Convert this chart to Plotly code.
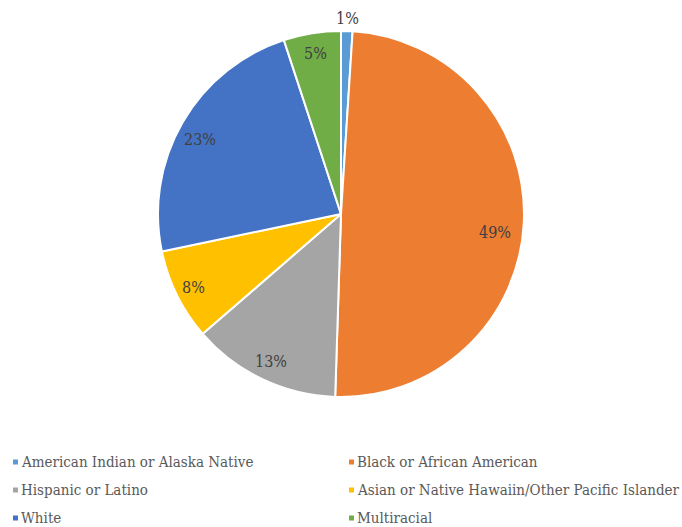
import math
import plotly.graph_objects as go

# Share of students by race / ethnicity (percent)
categories = [
    "American Indian or Alaska Native",
    "Black or African American",
    "Hispanic or Latino",
    "Asian or Native Hawaiin/Other Pacific Islander",
    "White",
    "Multiracial",
]
values = [1, 49, 13, 8, 23, 5]
colors = ["#5B9BD5", "#ED7D31", "#A5A5A5", "#FFC000", "#4472C4", "#70AD47"]

W, H = 682, 527
CX, CY, R = 341, 214, 183  # pie centre and radius in pixels
FONT = "DejaVu Serif Condensed, DejaVu Serif, serif"

# label placement: radius fraction and angular nudge (degrees) per slice
label_radius = [1.07, 0.85, 0.89, 0.90, 0.87, 0.89]
label_nudge = [0, 4, 0, 0, -2, 0]


def px(x):
    return x / W


def py(y):
    return 1 - y / H


fig = go.Figure()
fig.add_trace(
    go.Pie(
        labels=categories,
        values=values,
        sort=False,
        direction="clockwise",
        rotation=0,
        marker=dict(colors=colors, line=dict(color="white", width=2)),
        textinfo="none",
        hoverinfo="label+value",
        showlegend=False,
        domain=dict(x=[0, 1], y=[py(CY + R), py(CY - R)]),
    )
)

annotations = []
shapes = []

# value labels near the middle angle of each slice
total = sum(values)
cum = 0
for v, rf, nd in zip(values, label_radius, label_nudge):
    mid = (cum + v / 2) / total * 2 * math.pi + math.radians(nd)
    cum += v
    x = CX + rf * R * math.sin(mid)
    y = CY - rf * R * math.cos(mid)
    annotations.append(
        dict(
            x=px(x), y=py(y), xref="paper", yref="paper",
            text=f"{v}%", showarrow=False,
            xanchor="center", yanchor="middle",
            font=dict(family=FONT, size=16, color="#404040"),
        )
    )

# two-column legend below the pie
col_x = [13, 349]
row_y = [462, 490, 518]
for i, (name, c) in enumerate(zip(categories, colors)):
    mx = col_x[i % 2]
    my = row_y[i // 2]
    shapes.append(
        dict(
            type="rect", xref="paper", yref="paper",
            x0=px(mx), x1=px(mx + 5), y0=py(my - 2.5), y1=py(my + 2.5),
            fillcolor=c, line=dict(width=0),
        )
    )
    annotations.append(
        dict(
            x=px(mx + 6), y=py(my), xref="paper", yref="paper",
            text=name, showarrow=False,
            xanchor="left", yanchor="middle",
            font=dict(family=FONT, size=15, color="#595959"),
        )
    )

fig.update_layout(
    width=W,
    height=H,
    margin=dict(l=0, r=0, t=0, b=0),
    paper_bgcolor="white",
    plot_bgcolor="white",
    annotations=annotations,
    shapes=shapes,
)

fig.write_html("out.html")
